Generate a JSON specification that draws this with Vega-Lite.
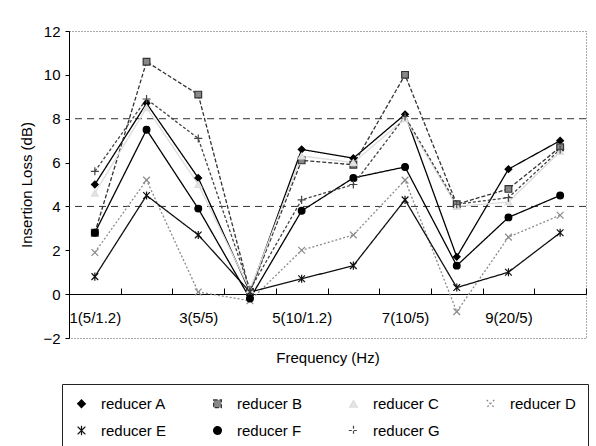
{
  "$schema": "https://vega.github.io/schema/vega-lite/v6.json",
  "autosize": {"type": "none"},
  "width": 517,
  "height": 307,
  "padding": {"left": 69, "top": 31, "right": 10, "bottom": 108},
  "background": "white",
  "config": {
    "font": "Liberation Sans",
    "view": {"stroke": "#555", "strokeDash": [1, 2]},
    "axis": {"labelFont": "Liberation Sans", "titleFont": "Liberation Sans", "labelFontSize": 15, "titleFontSize": 15, "titleFontWeight": "normal", "labelColor": "black", "titleColor": "black", "domainColor": "black", "tickColor": "black", "grid": false}
  },
  "datasets": {
    "series": [
      {"s": "reducer A", "f": 1, "v": 5.0}, {"s": "reducer A", "f": 2, "v": 8.7}, {"s": "reducer A", "f": 3, "v": 5.3}, {"s": "reducer A", "f": 4, "v": 0.1}, {"s": "reducer A", "f": 5, "v": 6.6}, {"s": "reducer A", "f": 6, "v": 6.2}, {"s": "reducer A", "f": 7, "v": 8.2}, {"s": "reducer A", "f": 8, "v": 1.7}, {"s": "reducer A", "f": 9, "v": 5.7}, {"s": "reducer A", "f": 10, "v": 7.0},
      {"s": "reducer B", "f": 1, "v": 2.8}, {"s": "reducer B", "f": 2, "v": 10.6}, {"s": "reducer B", "f": 3, "v": 9.1}, {"s": "reducer B", "f": 4, "v": 0.1}, {"s": "reducer B", "f": 5, "v": 6.1}, {"s": "reducer B", "f": 6, "v": 5.9}, {"s": "reducer B", "f": 7, "v": 10.0}, {"s": "reducer B", "f": 8, "v": 4.1}, {"s": "reducer B", "f": 9, "v": 4.8}, {"s": "reducer B", "f": 10, "v": 6.7},
      {"s": "reducer C", "f": 1, "v": 4.6}, {"s": "reducer C", "f": 2, "v": 8.5}, {"s": "reducer C", "f": 3, "v": 5.0}, {"s": "reducer C", "f": 4, "v": 0.2}, {"s": "reducer C", "f": 5, "v": 6.3}, {"s": "reducer C", "f": 6, "v": 6.0}, {"s": "reducer C", "f": 7, "v": 8.0}, {"s": "reducer C", "f": 8, "v": 4.0}, {"s": "reducer C", "f": 9, "v": 4.2}, {"s": "reducer C", "f": 10, "v": 6.5},
      {"s": "reducer D", "f": 1, "v": 1.9}, {"s": "reducer D", "f": 2, "v": 5.2}, {"s": "reducer D", "f": 3, "v": 0.1}, {"s": "reducer D", "f": 4, "v": -0.3}, {"s": "reducer D", "f": 5, "v": 2.0}, {"s": "reducer D", "f": 6, "v": 2.7}, {"s": "reducer D", "f": 7, "v": 5.2}, {"s": "reducer D", "f": 8, "v": -0.8}, {"s": "reducer D", "f": 9, "v": 2.6}, {"s": "reducer D", "f": 10, "v": 3.6},
      {"s": "reducer E", "f": 1, "v": 0.8}, {"s": "reducer E", "f": 2, "v": 4.5}, {"s": "reducer E", "f": 3, "v": 2.7}, {"s": "reducer E", "f": 4, "v": 0.1}, {"s": "reducer E", "f": 5, "v": 0.7}, {"s": "reducer E", "f": 6, "v": 1.3}, {"s": "reducer E", "f": 7, "v": 4.3}, {"s": "reducer E", "f": 8, "v": 0.3}, {"s": "reducer E", "f": 9, "v": 1.0}, {"s": "reducer E", "f": 10, "v": 2.8},
      {"s": "reducer F", "f": 1, "v": 2.8}, {"s": "reducer F", "f": 2, "v": 7.5}, {"s": "reducer F", "f": 3, "v": 3.9}, {"s": "reducer F", "f": 4, "v": -0.2}, {"s": "reducer F", "f": 5, "v": 3.8}, {"s": "reducer F", "f": 6, "v": 5.3}, {"s": "reducer F", "f": 7, "v": 5.8}, {"s": "reducer F", "f": 8, "v": 1.3}, {"s": "reducer F", "f": 9, "v": 3.5}, {"s": "reducer F", "f": 10, "v": 4.5},
      {"s": "reducer G", "f": 1, "v": 5.6}, {"s": "reducer G", "f": 2, "v": 8.9}, {"s": "reducer G", "f": 3, "v": 7.1}, {"s": "reducer G", "f": 4, "v": 0.2}, {"s": "reducer G", "f": 5, "v": 4.3}, {"s": "reducer G", "f": 6, "v": 5.0}, {"s": "reducer G", "f": 7, "v": 8.1}, {"s": "reducer G", "f": 8, "v": 4.1}, {"s": "reducer G", "f": 9, "v": 4.4}, {"s": "reducer G", "f": 10, "v": 6.6}
    ],
    "grid": [{"g": 4}, {"g": 8}]
  },
  "layer": [
    {
      "data": {"name": "grid"},
      "mark": {"type": "rule", "stroke": "#333", "strokeDash": [7, 5], "strokeWidth": 1},
      "encoding": {
        "y": {"field": "g", "type": "quantitative", "scale": {"domain": [-2, 12], "nice": false}}
      }
    },
    {
      "data": {"name": "series"},
      "mark": {"type": "line", "strokeWidth": 1.3},
      "encoding": {
        "x": {"field": "f", "type": "ordinal", "scale": {"type": "band", "paddingInner": 0, "paddingOuter": 0},
          "axis": {"offset": -44, "tickBand": "extent", "tickSize": -6, "labelPadding": 22, "labelAngle": 0, "title": "Frequency (Hz)", "titlePadding": 25,
            "labelExpr": "datum.value == 1 ? '1(5/1.2)' : datum.value == 3 ? '3(5/5)' : datum.value == 5 ? '5(10/1.2)' : datum.value == 7 ? '7(10/5)' : datum.value == 9 ? '9(20/5)' : ''"}},
        "y": {"field": "v", "type": "quantitative", "scale": {"domain": [-2, 12], "nice": false},
          "axis": {"values": [-2, 0, 2, 4, 6, 8, 10, 12], "tickSize": 4, "labelPadding": 5, "title": "Insertion Loss (dB)", "titlePadding": 8}},
        "stroke": {"field": "s", "type": "nominal", "title": null,
          "scale": {"domain": ["reducer A", "reducer B", "reducer C", "reducer D", "reducer E", "reducer F", "reducer G"], "range": ["#000000", "#333333", "#dddddd", "#8a8a8a", "#111111", "#000000", "#444444"]},
          "legend": {"orient": "none", "legendX": -7, "legendY": 353, "columns": 4, "direction": "horizontal", "padding": 12, "strokeColor": "#222", "symbolSize": 60, "labelOffset": 12, "columnPadding": 43, "rowPadding": 11, "labelFontSize": 15, "labelFont": "Liberation Sans", "labelColor": "black", "symbolStrokeWidth": 1.2}},
        "strokeDash": {"field": "s", "type": "nominal", "title": null,
          "scale": {"domain": ["reducer A", "reducer B", "reducer C", "reducer D", "reducer E", "reducer F", "reducer G"], "range": [[1, 0], [4, 2], [1, 0], [2, 2], [1, 0], [1, 0], [3, 2]]}}
      }
    },
    {
      "data": {"name": "series"},
      "mark": {"type": "point", "filled": true, "size": 45, "strokeWidth": 1.2, "opacity": 1},
      "encoding": {
        "x": {"field": "f", "type": "ordinal"},
        "y": {"field": "v", "type": "quantitative"},
        "stroke": {"field": "s", "type": "nominal", "title": null},
        "fill": {"field": "s", "type": "nominal", "title": null,
          "scale": {"domain": ["reducer A", "reducer B", "reducer C", "reducer D", "reducer E", "reducer F", "reducer G"], "range": ["#000000", "#888888", "#e4e4e4", "#8a8a8a", "#111111", "#000000", "#444444"]}},
        "shape": {"field": "s", "type": "nominal", "title": null,
          "scale": {"domain": ["reducer A", "reducer B", "reducer C", "reducer D", "reducer E", "reducer F", "reducer G"], "range": ["diamond", "square", "triangle-up", "M-1,-1L1,1M1,-1L-1,1", "M-1,-1L1,1M1,-1L-1,1M0,-1.2L0,1.2", "circle", "M-1.2,0L1.2,0M0,-1.2L0,1.2"]}}
      }
    }
  ]
}
